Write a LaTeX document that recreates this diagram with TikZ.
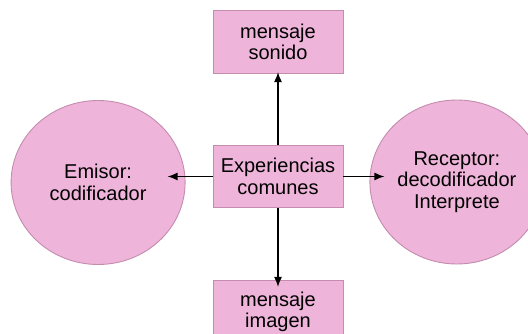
\documentclass[tikz,border=0pt]{standalone}
\usepackage{fontspec}
\setmainfont{Liberation Sans}
\usetikzlibrary{arrows.meta, positioning, shapes.geometric}
\definecolor{rosa}{HTML}{EFB4D9}
\definecolor{borde}{HTML}{C48CAD}

\begin{document}
\begin{tikzpicture}[
  x=1pt, y=-1pt,
  node distance=71pt,
  every node/.style={font=\fontsize{20}{21.5}\selectfont},
  caja/.style={draw=borde, line width=0.9pt, fill=rosa, minimum width=130pt, minimum height=62pt, inner sep=0pt, align=center},
  burbuja/.style={draw=borde, line width=0.9pt, fill=rosa, ellipse, minimum width=174pt, minimum height=164pt, inner sep=0pt, align=center},
  flecha/.style={-{Latex[width=8pt,length=10pt]}, line width=1.4pt}
]
\useasboundingbox (0,0) rectangle (528,334);

% Nodos
\node[caja] (comun) at (278,176.5) {Experiencias\\comunes};
\node[caja, above=of comun, minimum height=63pt] (sonido) {mensaje\\sonido};
\node[caja, below=72pt of comun, minimum height=63pt] (imagen) {mensaje\\imagen};
\node[burbuja, left=27pt of comun, yshift=-6pt] (emisor) {Emisor:\\codificador};
\node[burbuja, right=26pt of comun, yshift=-5.5pt] (receptor) {Receptor:\\decodificador\\Interprete};

% Flechas
\draw[flecha, shorten >=-2pt] (comun.north) -- (sonido.south);
\draw[flecha, shorten >=-7pt] (comun.south) -- (imagen.north);
\draw[flecha, shorten >=-18pt] (comun.west) -- (emisor.east |- comun.west);
\draw[flecha, shorten >=-15pt] (comun.east) -- (receptor.west |- comun.east);
\end{tikzpicture}
\end{document}
